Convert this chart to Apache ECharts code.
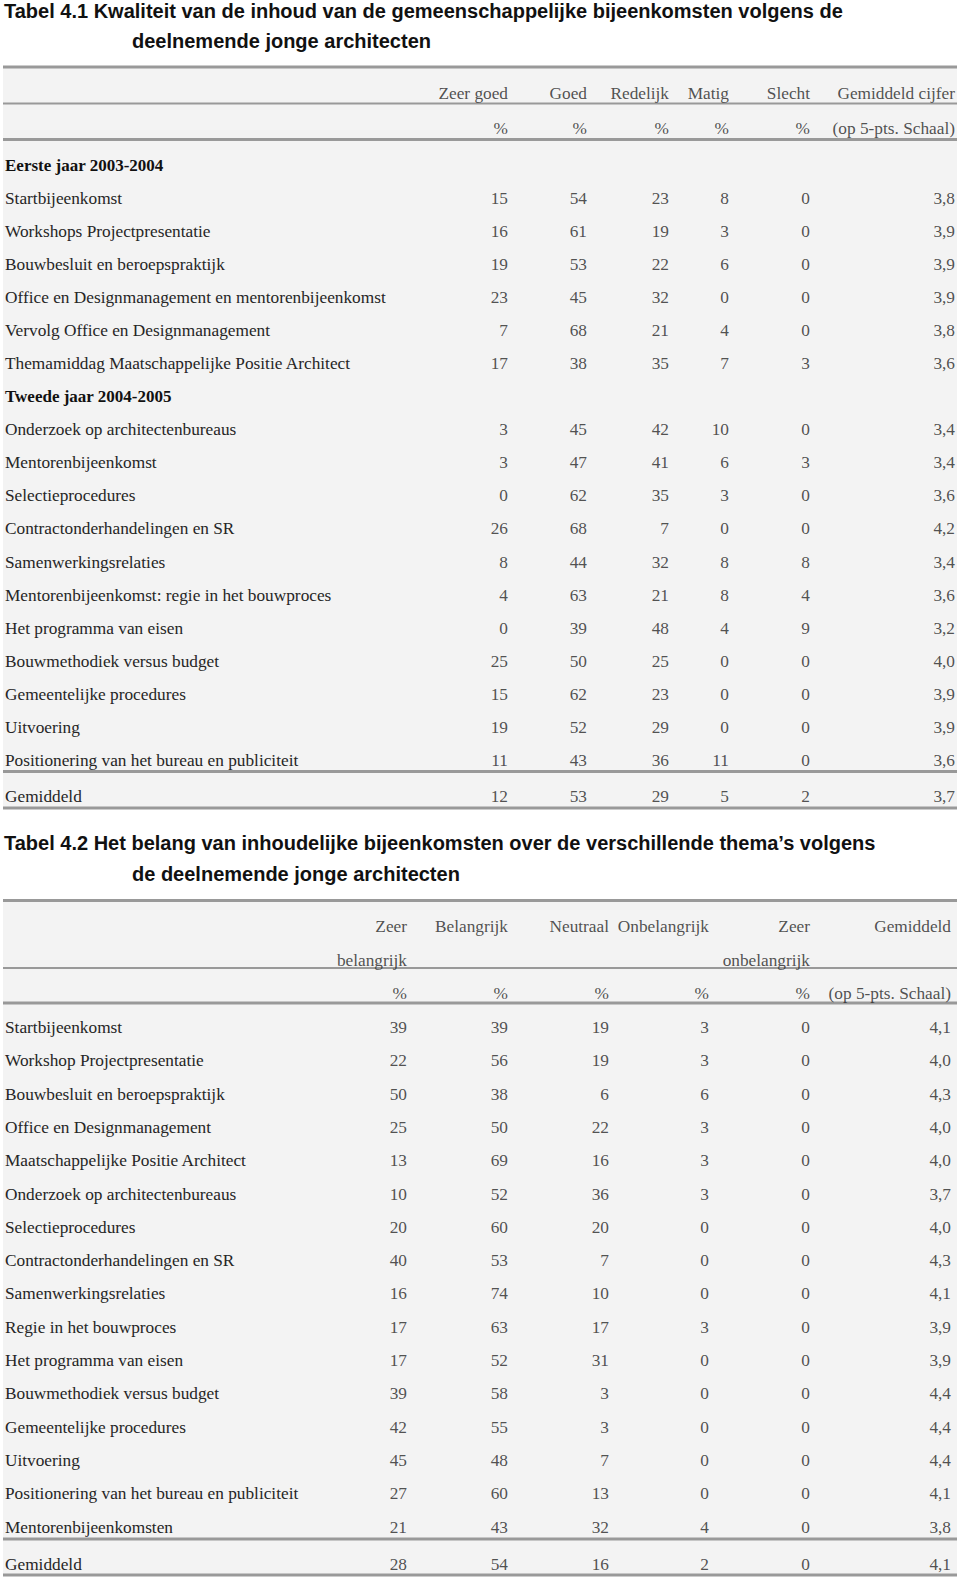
<!DOCTYPE html>
<html><head><meta charset="utf-8">
<script src="https://cdn.jsdelivr.net/npm/echarts@6/dist/echarts.min.js"></script>
<style>html,body{margin:0;padding:0;background:#fff}#c{width:960px;height:1580px}</style>
</head><body><div id="c"></div>
<script>
// ---------- DATA ----------
// Tabel 4.1
const t1Title1 = 'Tabel 4.1 Kwaliteit van de inhoud van de gemeenschappelijke bijeenkomsten volgens de';
const t1Title2 = 'deelnemende jonge architecten';
const t1Columns = ['Zeer goed', 'Goed', 'Redelijk', 'Matig', 'Slecht', 'Gemiddeld cijfer'];
const t1Units = ['%', '%', '%', '%', '%', '(op 5-pts. Schaal)'];
const t1Sections = ['Eerste jaar 2003-2004', 'Tweede jaar 2004-2005'];
const t1Rows = [
  'Eerste jaar 2003-2004',
  'Startbijeenkomst',
  'Workshops Projectpresentatie',
  'Bouwbesluit en beroepspraktijk',
  'Office en Designmanagement en mentorenbijeenkomst',
  'Vervolg Office en Designmanagement',
  'Themamiddag Maatschappelijke Positie Architect',
  'Tweede jaar 2004-2005',
  'Onderzoek op architectenbureaus',
  'Mentorenbijeenkomst',
  'Selectieprocedures',
  'Contractonderhandelingen en SR',
  'Samenwerkingsrelaties',
  'Mentorenbijeenkomst: regie in het bouwproces',
  'Het programma van eisen',
  'Bouwmethodiek versus budget',
  'Gemeentelijke procedures',
  'Uitvoering',
  'Positionering van het bureau en publiciteit'
];
const t1ZeerGoed = [null, 15, 16, 19, 23, 7, 17, null, 3, 3, 0, 26, 8, 4, 0, 25, 15, 19, 11];
const t1Goed     = [null, 54, 61, 53, 45, 68, 38, null, 45, 47, 62, 68, 44, 63, 39, 50, 62, 52, 43];
const t1Redelijk = [null, 23, 19, 22, 32, 21, 35, null, 42, 41, 35, 7, 32, 21, 48, 25, 23, 29, 36];
const t1Matig    = [null, 8, 3, 6, 0, 4, 7, null, 10, 6, 3, 0, 8, 8, 4, 0, 0, 0, 11];
const t1Slecht   = [null, 0, 0, 0, 0, 0, 3, null, 0, 3, 0, 0, 8, 4, 9, 0, 0, 0, 0];
const t1Cijfer   = [null, 3.8, 3.9, 3.9, 3.9, 3.8, 3.6, null, 3.4, 3.4, 3.6, 4.2, 3.4, 3.6, 3.2, 4.0, 3.9, 3.9, 3.6];
const t1TotalLabel = 'Gemiddeld';
const t1Total = [12, 53, 29, 5, 2, 3.7];

// Tabel 4.2
const t2Title1 = 'Tabel 4.2 Het belang van inhoudelijke bijeenkomsten over de verschillende thema\u2019s volgens';
const t2Title2 = 'de deelnemende jonge architecten';
const t2Head1 = ['Zeer', 'Belangrijk', 'Neutraal', 'Onbelangrijk', 'Zeer', 'Gemiddeld'];
const t2Head2 = ['belangrijk', '', '', '', 'onbelangrijk', ''];
const t2Units = ['%', '%', '%', '%', '%', '(op 5-pts. Schaal)'];
const t2Rows = [
  'Startbijeenkomst',
  'Workshop Projectpresentatie',
  'Bouwbesluit en beroepspraktijk',
  'Office en Designmanagement',
  'Maatschappelijke Positie Architect',
  'Onderzoek op architectenbureaus',
  'Selectieprocedures',
  'Contractonderhandelingen en SR',
  'Samenwerkingsrelaties',
  'Regie in het bouwproces',
  'Het programma van eisen',
  'Bouwmethodiek versus budget',
  'Gemeentelijke procedures',
  'Uitvoering',
  'Positionering van het bureau en publiciteit',
  'Mentorenbijeenkomsten'
];
const t2ZeerBelangrijk   = [39, 22, 50, 25, 13, 10, 20, 40, 16, 17, 17, 39, 42, 45, 27, 21];
const t2Belangrijk       = [39, 56, 38, 50, 69, 52, 60, 53, 74, 63, 52, 58, 55, 48, 60, 43];
const t2Neutraal         = [19, 19, 6, 22, 16, 36, 20, 7, 10, 17, 31, 3, 3, 7, 13, 32];
const t2Onbelangrijk     = [3, 3, 6, 3, 3, 3, 0, 0, 0, 3, 0, 0, 0, 0, 0, 4];
const t2ZeerOnbelangrijk = [0, 0, 0, 0, 0, 0, 0, 0, 0, 0, 0, 0, 0, 0, 0, 0];
const t2Gemiddeld        = [4.1, 4.0, 4.3, 4.0, 4.0, 3.7, 4.0, 4.3, 4.1, 3.9, 3.9, 4.4, 4.4, 4.4, 4.1, 3.8];
const t2TotalLabel = 'Gemiddeld';
const t2Total = [28, 54, 16, 2, 0, 4.1];

// ---------- LAYOUT / STYLE ----------
const W = 960;
const FONT = "'Liberation Serif', 'DejaVu Serif', serif";
const TFONT = "'Liberation Sans', Arial, sans-serif";
const FS = 17.3;
const TXT = '#262626';
const RULE = '#999999';
const BG = '#f3f3f3';
const t1ColX = [508, 587, 669, 729, 810, 955];
const t2ColX = [407, 508, 609, 709, 810, 951];

const fmtPct = v => String(v);
const fmtAvg = v => v.toFixed(1).replace('.', ',');
const fmtTxt = v => v;

const grids = [], xAxes = [], yAxes = [], series = [];
function addBlock(c0, step, rowLabels, columns, colX) {
  const gi = grids.length;
  grids.push({ left: 0, right: 0, top: c0 - step / 2, height: step * rowLabels.length });
  xAxes.push({ gridIndex: gi, type: 'value', min: 0, max: W, show: false });
  yAxes.push({
    gridIndex: gi, type: 'category', inverse: true, data: rowLabels,
    axisLine: { show: false }, axisTick: { show: false }, splitLine: { show: false },
    axisLabel: {
      inside: true, margin: 5, interval: 0, align: 'left',
      fontFamily: FONT, fontSize: FS, color: TXT,
      formatter: v => (t1Sections.indexOf(v) >= 0 ? '{b|' + v + '}' : v),
      rich: { b: { fontFamily: FONT, fontSize: 17, fontWeight: 'bold', color: '#111' } }
    }
  });
  columns.forEach((col, c) => {
    series.push({
      type: 'scatter', name: col.name, xAxisIndex: gi, yAxisIndex: gi,
      symbolSize: 0, silent: true, animation: false,
      data: col.values
        .map((v, i) => (v === null || v === '' ? null : { name: col.fmt(v), value: [colX[c], i] }))
        .filter(d => d !== null),
      label: {
        show: true, position: [0, 0], align: 'right', verticalAlign: 'middle',
        formatter: '{b}', fontFamily: FONT, fontSize: FS, color: TXT
      }
    });
  });
}

// Table 4.1
addBlock(93.5, 34.5, ['', ''],
  t1Columns.map((h, c) => ({ name: h, values: [h, t1Units[c]], fmt: fmtTxt })), t1ColX);
const t1Series = [t1ZeerGoed, t1Goed, t1Redelijk, t1Matig, t1Slecht, t1Cijfer];
addBlock(165, 33.09, t1Rows,
  t1Series.map((vals, c) => ({ name: t1Columns[c], values: vals, fmt: c === 5 ? fmtAvg : fmtPct })), t1ColX);
addBlock(796.5, 33, [t1TotalLabel],
  t1Total.map((v, c) => ({ name: t1Columns[c], values: [v], fmt: c === 5 ? fmtAvg : fmtPct })), t1ColX);

// Table 4.2
addBlock(926.7, 33.3, ['', '', ''],
  t2Head1.map((h, c) => ({ name: h + ' ' + t2Head2[c], values: [h, t2Head2[c], t2Units[c]], fmt: fmtTxt })), t2ColX);
const t2Series = [t2ZeerBelangrijk, t2Belangrijk, t2Neutraal, t2Onbelangrijk, t2ZeerOnbelangrijk, t2Gemiddeld];
addBlock(1027.5, 33.3, t2Rows,
  t2Series.map((vals, c) => ({ name: t2Head1[c], values: vals, fmt: c === 5 ? fmtAvg : fmtPct })), t2ColX);
addBlock(1565, 33, [t2TotalLabel],
  t2Total.map((v, c) => ({ name: t2Head1[c], values: [v], fmt: c === 5 ? fmtAvg : fmtPct })), t2ColX);

// decorations: table backgrounds and rules
function rule(y, h) {
  return { type: 'rect', silent: true, z: 1, shape: { x: 3, y: y - h / 2, width: 954, height: h }, style: { fill: RULE } };
}
const graphics = [
  { type: 'rect', silent: true, z: 0, shape: { x: 3, y: 67, width: 954, height: 742 }, style: { fill: BG } },
  { type: 'rect', silent: true, z: 0, shape: { x: 3, y: 900, width: 954, height: 676 }, style: { fill: BG } },
  rule(67, 3), rule(103.5, 2), rule(139.5, 3), rule(771.5, 3), rule(808, 3),
  rule(900.5, 3), rule(968, 2), rule(1003, 3), rule(1539, 3), rule(1575, 3)
];

const titleStyle = { fontFamily: TFONT, fontWeight: 'bold', fontSize: 20, lineHeight: 24, color: '#111' };
const chart = echarts.init(document.getElementById('c'), null, { renderer: 'svg' });
chart.setOption({
  backgroundColor: '#ffffff',
  animation: false,
  title: [
    { text: t1Title1, left: 4, top: -1, padding: 0, textStyle: titleStyle },
    { text: t1Title2, left: 132, top: 29, padding: 0, textStyle: titleStyle },
    { text: t2Title1, left: 4, top: 831, padding: 0, textStyle: titleStyle },
    { text: t2Title2, left: 132, top: 862, padding: 0, textStyle: titleStyle }
  ],
  grid: grids, xAxis: xAxes, yAxis: yAxes, series: series,
  graphic: { elements: graphics }
});
</script></body></html>
